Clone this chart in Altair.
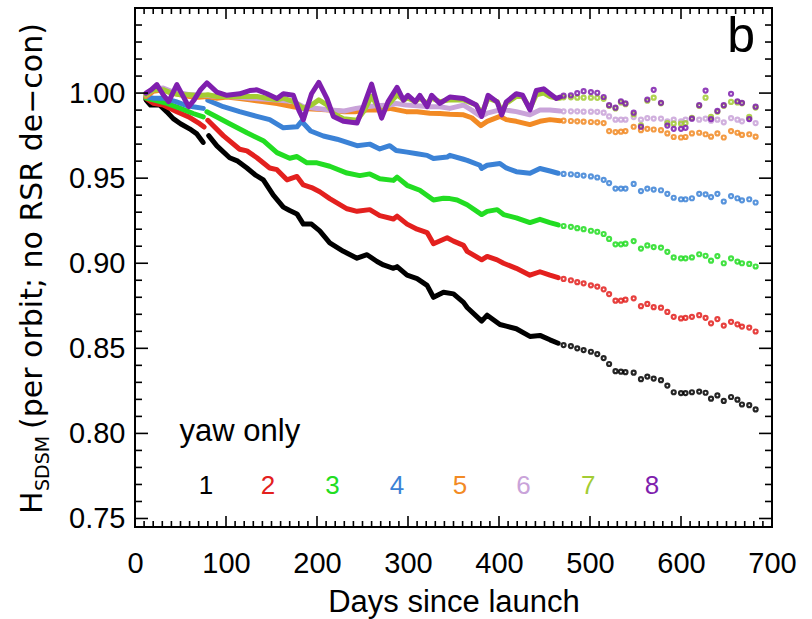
import altair as alt
import pandas as pd

FONT = "Liberation Sans"
TFONT = "DejaVu Sans"
W, H = 637, 519

# ---------------- data ----------------
# series 1 (black)
S1A_DAYS = [12, 17, 27, 35, 42, 50, 60, 68, 75]
S1A_VALS = [0.996, 0.993, 0.993, 0.989, 0.985, 0.982, 0.979, 0.976, 0.971]
S1_DAYS = [81, 90, 104, 113, 123, 132, 141, 152, 163, 170, 178, 185, 194, 203, 214, 229, 244, 255, 266,
           273, 284, 288, 299, 310, 321, 328, 339, 350, 361, 365, 381, 387, 401, 408, 419, 434, 445, 456, 465]
S1_VALS = [0.975, 0.969, 0.962, 0.960, 0.956, 0.952, 0.949, 0.940, 0.933, 0.931, 0.929, 0.923, 0.923,
           0.919, 0.912, 0.907, 0.903, 0.905, 0.901, 0.899, 0.897, 0.898, 0.893, 0.891, 0.887, 0.880,
           0.883, 0.882, 0.877, 0.874, 0.866, 0.8695, 0.864, 0.863, 0.8615, 0.857, 0.8576, 0.855, 0.853]
# series 2 (red)
S2A_DAYS = [12, 20, 31, 46, 59, 71, 76]
S2A_VALS = [0.997, 0.994, 0.993, 0.989, 0.986, 0.982, 0.980]
S2_DAYS = [80, 97, 115, 123, 134, 148, 156, 167, 178, 185, 194, 203, 214, 233, 244, 258, 269, 284, 288,
           299, 310, 321, 328, 343, 350, 361, 365, 381, 387, 398, 405, 419, 434, 445, 456, 465]
S2_VALS = [0.984, 0.975, 0.967, 0.966, 0.962, 0.956, 0.955, 0.949, 0.951, 0.946, 0.9445, 0.942, 0.938,
           0.932, 0.9305, 0.9315, 0.928, 0.926, 0.9277, 0.923, 0.920, 0.918, 0.9115, 0.915, 0.913, 0.9105,
           0.907, 0.902, 0.904, 0.902, 0.900, 0.897, 0.893, 0.895, 0.893, 0.8915]
# series 3 (green)
S3A_DAYS = [12, 20, 35, 50, 64, 75]
S3A_VALS = [0.997, 0.996, 0.994, 0.991, 0.988, 0.986]
S3_DAYS = [79, 90, 104, 123, 141, 156, 170, 178, 189, 200, 214, 233, 247, 258, 269, 284, 288, 299, 313,
           328, 339, 346, 354, 365, 381, 387, 398, 405, 419, 434, 445, 456, 465]
S3_VALS = [0.989, 0.986, 0.982, 0.9767, 0.972, 0.965, 0.9617, 0.9627, 0.959, 0.959, 0.957, 0.953, 0.9515,
           0.9525, 0.9496, 0.9487, 0.9506, 0.9458, 0.9429, 0.9372, 0.9382, 0.938, 0.9372, 0.9344, 0.9286,
           0.9305, 0.9315, 0.9286, 0.9267, 0.9239, 0.9258, 0.9239, 0.9225]
# series 4 (blue)
S4A_DAYS = [12, 20, 31, 45, 55, 64, 75]
S4A_VALS = [0.998, 0.997, 0.997, 0.995, 0.993, 0.992, 0.991]
S4_DAYS = [80, 97, 115, 134, 148, 163, 178, 183, 193, 207, 222, 244, 258, 269, 280, 287, 299, 310, 321,
           328, 343, 346, 361, 365, 379, 381, 387, 401, 408, 419, 434, 445, 456, 465]
S4_VALS = [0.9958, 0.992, 0.9891, 0.9863, 0.9844, 0.9796, 0.9802, 0.9834, 0.9777, 0.9748, 0.9729, 0.9691,
           0.970, 0.9672, 0.9691, 0.9662, 0.9653, 0.9643, 0.9634, 0.9615, 0.9624, 0.9634, 0.9611, 0.9605,
           0.9576, 0.9557, 0.9576, 0.9586, 0.956, 0.9538, 0.9529, 0.9557, 0.9542, 0.9529]
# series 5 (orange)
S5_DAYS = [12, 20, 31, 40, 50, 60, 70, 80, 90, 101, 115, 126, 140, 156, 174, 185, 200, 214, 230, 243,
           255, 265, 280, 298, 310, 324, 335, 346, 361, 370, 380, 387, 401, 408, 419, 434, 445, 456, 467]
S5_VALS = [0.998, 1.001, 1.002, 1.000, 0.999, 0.998, 0.9975, 0.998, 0.997, 0.9977, 0.9968, 0.996, 0.995,
           0.9939, 0.992, 0.991, 0.9905, 0.9901, 0.989, 0.9891, 0.990, 0.9901, 0.991, 0.9891, 0.989, 0.9882,
           0.988, 0.9875, 0.9872, 0.9855, 0.9809, 0.9834, 0.9863, 0.9844, 0.9834, 0.9815, 0.9834, 0.9844,
           0.9838]
# series 6 (lilac)
S6_DAYS = [12, 20, 31, 40, 50, 60, 70, 80, 90, 101, 115, 126, 140, 156, 174, 185, 200, 214, 230, 243,
           255, 265, 280, 287, 298, 310, 324, 335, 346, 361, 370, 380, 387, 401, 408, 419, 434, 445, 456, 467]
S6_VALS = [0.999, 1.002, 1.003, 1.001, 1.000, 0.999, 0.999, 0.9985, 0.998, 0.998, 0.9975, 0.997, 0.9965,
           0.996, 0.995, 0.992, 0.991, 0.990, 0.9895, 0.991, 0.992, 0.9925, 0.993, 0.9939, 0.993, 0.9925,
           0.992, 0.992, 0.991, 0.9929, 0.990, 0.9863, 0.9882, 0.9901, 0.990, 0.9891, 0.9872, 0.9901,
           0.9901, 0.9895]
# series 7 (yellow-green)
S7_DAYS = [12, 20, 31, 40, 50, 60, 70, 80, 90, 101, 115, 126, 134, 145, 156, 163, 174, 185, 194, 202,
           211, 218, 229, 244, 251, 260, 267, 271, 278, 288, 295, 300, 308, 313, 321, 326, 335, 346, 361,
           375, 381, 388, 398, 403, 408, 419, 426, 434, 441, 449, 456, 463, 467]
S7_VALS = [0.999, 1.002, 1.002, 1.000, 0.999, 0.999, 0.9985, 0.999, 0.998, 0.998, 0.998, 0.998, 0.998,
           0.997, 0.996, 0.997, 0.995, 0.991, 0.993, 0.996, 0.993, 0.988, 0.985, 0.984, 0.989, 0.998,
           0.992, 0.988, 0.993, 0.999, 0.996, 0.997, 0.995, 0.997, 0.994, 0.997, 0.995, 0.996, 0.996,
           0.993, 0.988, 0.997, 0.995, 0.989, 0.994, 0.998, 0.998, 0.991, 0.999, 1.000, 0.998, 0.997, 0.997]
# series 8 (purple)
S8_DAYS = [12, 18, 24, 31, 37, 46, 51, 59, 65, 72, 79, 90, 101, 115, 126, 134, 145, 156, 163, 174, 180,
           185, 194, 202, 211, 218, 229, 244, 251, 260, 267, 271, 278, 288, 295, 300, 308, 313, 321, 326,
           335, 346, 361, 375, 381, 388, 398, 403, 408, 419, 426, 434, 441, 449, 456, 463, 467]
S8_VALS = [1.000, 1.002, 1.005, 0.999, 0.995, 1.005, 1.000, 0.992, 0.996, 1.002, 1.006, 1.0006, 0.9987,
           0.9996, 1.0015, 1.0019, 0.9996, 0.9968, 0.9996, 0.9987, 0.990, 0.9844, 0.9996, 1.0063, 0.9968,
           0.9863, 0.9834, 0.9824, 0.992, 1.0053, 0.992, 0.9853, 0.9948, 1.0034, 0.9958, 0.9987, 0.9948,
           0.9987, 0.992, 0.9987, 0.9939, 0.9977, 0.9968, 0.993, 0.9863, 0.9987, 0.9948, 0.9872, 0.9948,
           0.9996, 0.9987, 0.9901, 1.0015, 1.0025, 0.9996, 0.9968, 0.9977]

# dotted continuation (one point per orbit-average after day ~470)
DOT_DAYS = [471, 479, 486, 493, 501, 508, 515, 521, 528, 534, 539, 548, 556, 563, 570, 578, 585, 592,
            600, 605, 612, 620, 627, 633, 640, 647, 655, 662, 667, 675, 682]
D1 = [0.8519, 0.8513, 0.850, 0.849, 0.848, 0.8466, 0.8443, 0.8408, 0.8366, 0.8363, 0.836, 0.8357, 0.8319,
      0.8334, 0.8322, 0.8313, 0.8281, 0.8242, 0.8237, 0.8237, 0.8242, 0.8246, 0.8239, 0.8204, 0.8223,
      0.8191, 0.8214, 0.8198, 0.817, 0.8166, 0.8141]
D2 = [0.8908, 0.890, 0.8889, 0.8882, 0.887, 0.8863, 0.8847, 0.8819, 0.878, 0.878, 0.8786, 0.8794, 0.8748,
      0.8761, 0.8742, 0.8739, 0.8714, 0.8685, 0.8676, 0.8679, 0.8685, 0.8695, 0.8679, 0.8647, 0.8672,
      0.8634, 0.8656, 0.8641, 0.8628, 0.8622, 0.8599]
D3 = [0.9219, 0.9214, 0.9206, 0.920, 0.9191, 0.9185, 0.9172, 0.9143, 0.9111, 0.9111, 0.9115, 0.913, 0.9086,
      0.9105, 0.9095, 0.9092, 0.9067, 0.9034, 0.9029, 0.9029, 0.9034, 0.9053, 0.9044, 0.9015, 0.9042,
      0.900, 0.9029, 0.901, 0.900, 0.8996, 0.8981]
D4 = [0.9525, 0.9523, 0.9519, 0.9515, 0.951, 0.9504, 0.949, 0.9471, 0.9439, 0.9439, 0.9439, 0.9466, 0.9424,
      0.9439, 0.9433, 0.9429, 0.9408, 0.9385, 0.9376, 0.9376, 0.9382, 0.9408, 0.9405, 0.9389, 0.9408,
      0.9363, 0.9395, 0.9382, 0.937, 0.9376, 0.9357]
D5 = [0.9838, 0.9836, 0.9834, 0.9832, 0.983, 0.9828, 0.9824, 0.9777, 0.9771, 0.9773, 0.9777, 0.9802,
      0.9782, 0.979, 0.9786, 0.9782, 0.9763, 0.9742, 0.9739, 0.9742, 0.9763, 0.9767, 0.9758, 0.9744,
      0.9763, 0.9739, 0.9777, 0.9767, 0.9754, 0.9758, 0.9744]
D6 = [0.9893, 0.9893, 0.9893, 0.9891, 0.9891, 0.989, 0.9885, 0.9863, 0.9844, 0.9844, 0.9844, 0.9859,
      0.9844, 0.9853, 0.985, 0.985, 0.9834, 0.9844, 0.9834, 0.9844, 0.9848, 0.9844, 0.985, 0.9838, 0.9844,
      0.9828, 0.9853, 0.9844, 0.9834, 0.9848, 0.9824]
D7 = [0.9975, 0.9975, 0.9973, 0.9973, 0.9973, 0.9972, 0.9966, 0.9925, 0.991, 0.9945, 0.9935, 0.9875,
      0.981, 0.9955, 0.9973, 0.994, 0.9824, 0.982, 0.982, 0.9824, 0.9855, 0.9925, 0.9973, 0.986, 0.989,
      0.9925, 0.9948, 0.9945, 0.994, 0.986, 0.9915]
D8 = [0.9985, 0.9987, 1.000, 1.0011, 1.0006, 1.0002, 0.9977, 0.9929, 0.9914, 0.9952, 0.9939, 0.9885,
      0.9802, 0.9962, 1.0019, 0.9943, 0.9809, 0.979, 0.979, 0.9796, 0.985, 0.9929, 1.0015, 0.9847, 0.9895,
      0.9929, 0.9996, 0.9952, 0.9943, 0.9847, 0.992]

COLORS = ["#000000", "#e3201e", "#22dd22", "#3b82d6", "#f28a24", "#c9a3d9", "#a3cc33", "#7f1fae"]
LEGEND_LABELS = ["1", "2", "3", "4", "5", "6", "7", "8"]
LEGEND_DAYS = [78, 146, 217, 288, 357, 427, 498, 568]
LEGEND_Y = 0.769
NOTE_TEXT, NOTE_DAY, NOTE_Y = "yaw  only", 49, 0.801
PANEL_TEXT, PANEL_DAY, PANEL_Y = "b", 666, 1.024

X_TICK_LABELS = [0, 100, 200, 300, 400, 500, 600, 700]
Y_TICK_LABELS = [0.75, 0.80, 0.85, 0.90, 0.95, 1.00]
Y_MAJOR = [0.75, 0.80, 0.85, 0.90, 0.95, 1.00, 1.05]
Y_MINOR = [round(0.75 + 0.01 * i, 2) for i in range(31) if i % 5 != 0]
X_MAJOR = X_TICK_LABELS
X_MINOR = [10 * i for i in range(71) if i % 10 != 0]

# ---------------- encodings ----------------
XS = alt.Scale(domain=[0, 700], nice=False, zero=False)
YS = alt.Scale(domain=[0.745, 1.05], nice=False, zero=False)
XAX = alt.Axis(values=X_TICK_LABELS, ticks=False, domain=False, grid=False, labelPadding=22,
               labelFont=FONT, labelFontSize=29, labelColor="black", labelFlush=False,
               title="Days since launch", titleFont=FONT, titleFontSize=31, titleFontWeight="normal",
               titleColor="black", titleY=84, titleBaseline="alphabetic")
YAX = alt.Axis(values=Y_TICK_LABELS, format=".2f", ticks=False, domain=False, grid=False, labelPadding=10,
               labelFont=FONT, labelFontSize=29, labelColor="black", labelFlush=False, title=None)


def X(field):
    return alt.X(field, type="quantitative", scale=XS, axis=XAX)


def Y(field):
    return alt.Y(field, type="quantitative", scale=YS, axis=YAX)


layers = []


def line(days, vals, color, width=5):
    df = pd.DataFrame({"day": days, "val": vals})
    return alt.Chart(df).mark_line(color=color, strokeWidth=width, strokeJoin="round",
                                   strokeCap="round").encode(x=X("day"), y=Y("val"))


def dots(vals, color):
    df = pd.DataFrame({"day": DOT_DAYS, "val": vals})
    return alt.Chart(df).mark_point(shape="circle", filled=False, color=color, size=16,
                                    strokeWidth=2.2, opacity=0.85).encode(x=X("day"), y=Y("val"))


solid = [
    [(S1A_DAYS, S1A_VALS), (S1_DAYS, S1_VALS)],
    [(S2A_DAYS, S2A_VALS), (S2_DAYS, S2_VALS)],
    [(S3A_DAYS, S3A_VALS), (S3_DAYS, S3_VALS)],
    [(S4A_DAYS, S4A_VALS), (S4_DAYS, S4_VALS)],
    [(S5_DAYS, S5_VALS)],
    [(S6_DAYS, S6_VALS)],
    [(S7_DAYS, S7_VALS)],
    [(S8_DAYS, S8_VALS)],
]
dotted = [D1, D2, D3, D4, D5, D6, D7, D8]

for i in range(8):
    for d, v in solid[i]:
        layers.append(line(d, v, COLORS[i]))
    layers.append(dots(dotted[i], COLORS[i]))

# legend numbers and notes
leg_df = pd.DataFrame({"day": LEGEND_DAYS, "val": [LEGEND_Y] * 8, "lab": LEGEND_LABELS, "col": COLORS})
layers.append(alt.Chart(leg_df).mark_text(font=FONT, fontSize=26, align="center", baseline="middle")
              .encode(x=X("day"), y=Y("val"), text="lab:N",
                      color=alt.Color("col:N", scale=None, legend=None)))
note_df = pd.DataFrame({"day": [NOTE_DAY], "val": [NOTE_Y], "t": [NOTE_TEXT]})
layers.append(alt.Chart(note_df).mark_text(font=FONT, fontSize=31, align="left", baseline="middle",
                                           color="black")
              .encode(x=X("day"), y=Y("val"), text="t:N"))
panel_df = pd.DataFrame({"day": [PANEL_DAY], "val": [PANEL_Y], "t": [PANEL_TEXT]})
layers.append(alt.Chart(panel_df).mark_text(font=FONT, fontSize=50, align="center", baseline="alphabetic",
                                            color="black")
              .encode(x=X("day"), y=Y("val"), text="t:N"))


# inward ticks on all four sides
def yticks(vals, length):
    df = pd.DataFrame({"v": vals})
    left = alt.Chart(df).mark_rule(color="black", strokeWidth=1.6).encode(
        y=Y("v"), x=alt.value(0), x2=alt.value(length))
    right = alt.Chart(df).mark_rule(color="black", strokeWidth=1.6).encode(
        y=Y("v"), x=alt.value(W - length), x2=alt.value(W))
    return [left, right]


def xticks(vals, length):
    df = pd.DataFrame({"v": vals})
    bottom = alt.Chart(df).mark_rule(color="black", strokeWidth=1.6).encode(
        x=X("v"), y=alt.value(H - length), y2=alt.value(H))
    top = alt.Chart(df).mark_rule(color="black", strokeWidth=1.6).encode(
        x=X("v"), y=alt.value(0), y2=alt.value(length))
    return [bottom, top]


layers += yticks(Y_MAJOR, 13) + yticks(Y_MINOR, 7) + xticks(X_MAJOR, 11) + xticks(X_MINOR, 6)

# y-axis title with subscript
YT_X = -93
yt = [
    ("H", YT_X, 506, 30),
    ("SDSM", YT_X + 7, 483, 19),
    ("(per orbit; no RSR de\u2212con)", YT_X, 421, 30),
]
for txt, xx, yy, fs in yt:
    layers.append(alt.Chart(pd.DataFrame({"t": [txt]})).mark_text(
        font=TFONT, fontSize=fs, angle=270, align="left", baseline="alphabetic", color="black")
        .encode(text="t:N", x=alt.value(xx), y=alt.value(yy)))

chart = alt.layer(*layers).properties(
    width=W, height=H,
    autosize=alt.AutoSizeParams(type="none"),
    padding={"left": 135, "top": 8, "right": 40, "bottom": 92},
    background="white",
).configure_view(stroke="black", strokeWidth=2)

chart.save("out.html", embed_options={"renderer": "svg", "actions": False})
